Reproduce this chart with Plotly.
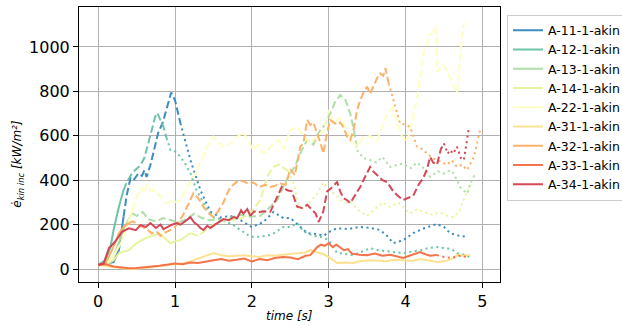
import numpy as np
import plotly.graph_objects as go

names = ["A-11-1-akin", "A-12-1-akin", "A-13-1-akin", "A-14-1-akin", "A-22-1-akin",
         "A-31-1-akin", "A-32-1-akin", "A-33-1-akin", "A-34-1-akin"]
colors = ["#3288bd", "#66c2a5", "#abdda4", "#e6f598", "#ffffbf",
          "#fee08b", "#fdae61", "#f46d43", "#d53e4f"]

# time [s] and e_kin_inc [kW/m2] per series
t11 = [0, 0.1, 0.2, 0.27, 0.33, 0.37, 0.42, 0.46, 0.52, 0.57, 0.6, 0.63, 0.68, 0.73, 0.78, 0.84, 0.9, 0.95, 1.0, 1.07,
       1.2, 1.33, 1.46, 1.59, 1.72, 1.85, 2.0, 2.15, 2.28, 2.41, 2.5, 2.6, 2.72, 2.85, 2.93, 3.02, 3.11, 3.25, 3.4, 3.55,
       3.67, 3.76, 3.84, 3.97, 4.1, 4.25, 4.35, 4.41, 4.5, 4.58, 4.7, 4.8]
v11 = [18, 25, 32, 86, 236, 330, 410, 400, 430, 420, 445, 415, 470, 540, 612, 660, 740, 795, 760, 657,
       491, 356, 259, 232, 240, 221, 189, 212, 257, 230, 230, 200, 162, 158, 150, 170, 184, 180, 190, 185,
       176, 150, 117, 130, 162, 185, 195, 203, 190, 162, 150, 145]

t12 = [0, 0.1, 0.16, 0.2, 0.27, 0.33, 0.37, 0.44, 0.5, 0.55, 0.6, 0.65, 0.7, 0.74, 0.77, 0.81, 0.85, 0.89, 0.94, 1.0,
       1.07, 1.14, 1.2, 1.28, 1.37, 1.5, 1.63, 1.75, 1.85, 1.98, 2.1, 2.2, 2.28, 2.41, 2.5, 2.59, 2.67, 2.72, 2.8, 2.9,
       3.0, 3.11, 3.2, 3.32, 3.43, 3.54, 3.65, 3.75, 3.87, 3.97, 4.1, 4.2, 4.3, 4.41, 4.5, 4.6, 4.67, 4.76, 4.84]
v12 = [20, 40, 100, 176, 281, 356, 390, 432, 450, 468, 500, 560, 630, 685, 703, 671, 640, 590, 536, 530,
       506, 470, 431, 356, 297, 234, 220, 200, 176, 146, 146, 150, 160, 190, 190, 207, 170, 162, 150, 145,
       131, 72, 70, 63, 80, 94, 85, 80, 75, 72, 80, 85, 95, 99, 95, 90, 72, 65, 54]

t13 = [0, 0.1, 0.2, 0.27, 0.36, 0.44, 0.5, 0.58, 0.65, 0.75, 0.85, 0.95, 1.05, 1.15, 1.25, 1.35, 1.45, 1.55, 1.65, 1.75,
       1.85, 1.98, 2.11, 2.24, 2.33, 2.41, 2.5, 2.56, 2.63, 2.72, 2.8, 2.88, 2.95, 3.02, 3.08, 3.15, 3.22, 3.28, 3.33, 3.37,
       3.45, 3.54, 3.62, 3.7, 3.8, 3.9, 3.97, 4.07, 4.15, 4.25, 4.32, 4.42, 4.5, 4.58, 4.63, 4.71, 4.8, 4.85, 4.91]
v13 = [18, 30, 60, 120, 200, 252, 240, 257, 225, 215, 230, 220, 210, 225, 250, 230, 220, 225, 215, 235,
       245, 236, 240, 281, 311, 371, 431, 461, 521, 581, 560, 620, 650, 700, 750, 784, 761, 700, 626, 536,
       500, 491, 480, 505, 460, 470, 475, 455, 480, 450, 415, 440, 430, 445, 430, 370, 340, 390, 430]

t14 = [0, 0.1, 0.2, 0.27, 0.4, 0.5, 0.62, 0.7, 0.8, 0.85, 0.94, 1.0, 1.07, 1.15, 1.2, 1.3, 1.4, 1.5, 1.6, 1.7,
       1.8, 1.9, 2.0, 2.11, 2.2, 2.28, 2.35, 2.41, 2.48, 2.55, 2.6, 2.67, 2.75, 2.85, 2.93, 3.0, 3.1, 3.2, 3.3, 3.4,
       3.5, 3.6, 3.7, 3.8, 3.9, 4.0, 4.06, 4.15, 4.25, 4.35, 4.45, 4.55, 4.62, 4.7, 4.78, 4.85]
v14 = [18, 20, 40, 72, 86, 117, 140, 150, 160, 144, 117, 125, 131, 150, 162, 150, 175, 200, 215, 225,
       220, 235, 260, 311, 416, 461, 470, 455, 440, 380, 300, 270, 300, 340, 390, 360, 330, 300, 300, 260,
       240, 270, 300, 280, 300, 270, 250, 270, 255, 245, 255, 240, 234, 260, 333, 380]

t22 = [0, 0.1, 0.2, 0.3, 0.4, 0.45, 0.49, 0.55, 0.59, 0.64, 0.68, 0.75, 0.81, 0.89, 0.96, 1.03, 1.1, 1.16, 1.23, 1.29,
       1.36, 1.42, 1.5, 1.56, 1.63, 1.7, 1.76, 1.83, 1.89, 1.95, 2.02, 2.08, 2.15, 2.22, 2.28, 2.35, 2.41, 2.5, 2.59, 2.67,
       2.76, 2.85, 2.93, 3.0, 3.06, 3.15, 3.22, 3.28, 3.37, 3.45, 3.54, 3.63, 3.7, 3.76, 3.83, 3.89, 3.95, 4.02, 4.08, 4.15,
       4.23, 4.32, 4.4, 4.41, 4.5, 4.58, 4.67, 4.72, 4.76]
v22 = [18, 25, 60, 120, 220, 270, 311, 370, 342, 380, 356, 350, 326, 297, 310, 300, 330, 370, 410, 446,
       500, 551, 596, 570, 551, 560, 581, 600, 617, 580, 536, 560, 521, 540, 566, 580, 540, 626, 640, 600,
       566, 600, 620, 716, 657, 680, 640, 596, 551, 590, 600, 580, 640, 700, 725, 662, 600, 572, 650, 770,
       964, 1054, 1090, 887, 919, 860, 793, 995, 1108]

t31 = [0, 0.1, 0.2, 0.3, 0.4, 0.5, 0.6, 0.7, 0.8, 0.9, 1.0, 1.1, 1.2, 1.3, 1.37, 1.45, 1.5, 1.6, 1.7, 1.8,
       1.9, 2.0, 2.1, 2.2, 2.3, 2.4, 2.5, 2.6, 2.7, 2.76, 2.85, 2.93, 3.0, 3.05, 3.11, 3.2, 3.32, 3.4, 3.54, 3.65,
       3.75, 3.85, 3.97, 4.1, 4.19, 4.3, 4.41, 4.5, 4.6, 4.67, 4.76, 4.84]
v31 = [18, 15, 8, 3, 0, 2, 5, 8, 15, 18, 22, 25, 35, 48, 54, 65, 72, 62, 58, 60,
       62, 58, 55, 62, 60, 65, 70, 72, 75, 86, 75, 68, 54, 40, 27, 30, 28, 35, 40, 38,
       35, 42, 40, 38, 45, 40, 32, 35, 45, 63, 60, 65]

t32 = [0, 0.1, 0.18, 0.27, 0.33, 0.4, 0.45, 0.5, 0.56, 0.63, 0.7, 0.76, 0.81, 0.87, 0.94, 1.0, 1.03, 1.1, 1.17, 1.24,
       1.3, 1.37, 1.44, 1.5, 1.56, 1.63, 1.7, 1.76, 1.83, 1.89, 1.95, 2.02, 2.1, 2.17, 2.24, 2.3, 2.37, 2.44, 2.5, 2.56,
       2.63, 2.67, 2.72, 2.76, 2.8, 2.85, 2.9, 2.93, 2.97, 3.02, 3.07, 3.11, 3.15, 3.19, 3.24, 3.28, 3.32, 3.37, 3.41, 3.46,
       3.5, 3.54, 3.58, 3.63, 3.67, 3.71, 3.74, 3.78, 3.84, 3.93, 4.0, 4.06, 4.15, 4.22, 4.28, 4.35, 4.41, 4.48, 4.54, 4.6,
       4.67, 4.74, 4.8, 4.89, 4.97]
v32 = [15, 30, 86, 162, 190, 207, 215, 205, 195, 180, 160, 170, 150, 165, 175, 190, 207, 240, 290, 342,
       320, 280, 250, 234, 260, 300, 356, 380, 401, 395, 385, 390, 370, 380, 370, 375, 385, 380, 450, 423,
       551, 566, 671, 650, 660, 611, 560, 521, 600, 671, 660, 650, 660, 640, 596, 581, 620, 716, 760, 800,
       821, 790, 820, 860, 881, 870, 905, 836, 761, 656, 650, 640, 551, 540, 521, 500, 491, 480, 470, 490,
       460, 470, 446, 505, 626]

t33 = [0, 0.1, 0.2, 0.3, 0.4, 0.5, 0.6, 0.7, 0.8, 0.9, 1.0, 1.1, 1.2, 1.3, 1.4, 1.5, 1.6, 1.7, 1.8, 1.9,
       2.0, 2.1, 2.2, 2.3, 2.4, 2.5, 2.6, 2.7, 2.76, 2.85, 2.9, 2.95, 3.0, 3.05, 3.1, 3.15, 3.2, 3.25, 3.3, 3.4,
       3.5, 3.6, 3.7, 3.8, 3.9, 3.97, 4.05, 4.12, 4.19, 4.25, 4.32, 4.41, 4.5, 4.6, 4.7, 4.8]
v33 = [20, 22, 12, 8, 4, 5, 10, 12, 15, 20, 25, 22, 30, 28, 35, 40, 45, 38, 42, 48,
       35, 45, 40, 50, 55, 52, 45, 60, 63, 99, 110, 105, 117, 100, 110, 99, 85, 90, 70, 65,
       63, 70, 60, 65, 55, 50, 60, 70, 77, 68, 60, 63, 55, 50, 60, 55]

t34 = [0, 0.07, 0.14, 0.22, 0.31, 0.4, 0.49, 0.55, 0.62, 0.68, 0.75, 0.81, 0.85, 0.9, 0.96, 1.02, 1.07, 1.13, 1.2, 1.25,
       1.29, 1.33, 1.37, 1.42, 1.46, 1.52, 1.58, 1.63, 1.7, 1.76, 1.81, 1.86, 1.89, 1.94, 1.98, 2.03, 2.07, 2.15, 2.24, 2.28,
       2.33, 2.39, 2.46, 2.52, 2.59, 2.65, 2.72, 2.78, 2.83, 2.87, 2.93, 2.98, 3.05, 3.11, 3.15, 3.19, 3.24, 3.28, 3.34, 3.41,
       3.48, 3.54, 3.58, 3.63, 3.7, 3.76, 3.8, 3.84, 3.9, 3.97, 4.03, 4.1, 4.17, 4.23, 4.28, 4.32, 4.36, 4.41, 4.46, 4.5,
       4.55, 4.58, 4.62, 4.67, 4.72, 4.76, 4.82]
v34 = [20, 25, 95, 123, 168, 184, 175, 198, 190, 207, 185, 200, 180, 190, 200, 207, 200, 215, 234, 210,
       200, 185, 176, 195, 185, 200, 215, 225, 220, 234, 230, 265, 250, 270, 240, 260, 255, 260, 258, 290,
       326, 371, 355, 350, 281, 275, 290, 270, 250, 213, 260, 350, 370, 392, 350, 320, 310, 297, 330, 370,
       420, 460, 440, 423, 400, 392, 370, 350, 330, 311, 320, 330, 380, 410, 450, 505, 480, 470, 540, 566,
       520, 536, 520, 551, 500, 491, 626]

times = [t11, t12, t13, t14, t22, t31, t32, t33, t34]
values = [v11, v12, v13, v14, v22, v31, v32, v33, v34]
# time where line style switches: solid -> dashed, dashed -> dotted
solid_end = [0.33, 0.33, 0.44, 1.2, 0.45, 99, 0.4, 4.41, 1.98]
dash_end = [1.07, 0.89, 3.37, 2.48, 99, 99, 3.78, 4.41, 4.5]

DASH = "7.5px,3.3px"
DOT = "2.1px,3.4px"

fig = go.Figure()
for i in range(len(names)):
    t = np.array(times[i], dtype=float)
    v = np.array(values[i], dtype=float)
    segs = [("solid", (t <= solid_end[i])),
            (DASH, (t >= solid_end[i]) & (t <= dash_end[i])),
            (DOT, (t >= dash_end[i]))]
    for k, (style, m) in enumerate(segs):
        if m.sum() < 2:
            continue
        fig.add_trace(go.Scatter(
            x=t[m], y=v[m], mode="lines", name=names[i],
            legendgroup=names[i], showlegend=(k == 0),
            line=dict(color=colors[i], width=2, dash=style),
            opacity=0.95, hoverinfo="skip"))

axis_common = dict(showline=True, linecolor="black", linewidth=1, mirror=True,
                   ticks="outside", ticklen=5, tickwidth=1, tickcolor="black",
                   showgrid=True, gridcolor="#b0b0b0", gridwidth=1, zeroline=False,
                   tickfont=dict(family="DejaVu Sans", size=16, color="black"))

fig.update_layout(
    width=622, height=326,
    margin=dict(l=79, r=122, t=7, b=44, autoexpand=False),
    paper_bgcolor="white", plot_bgcolor="white",
    font=dict(family="DejaVu Sans", color="black"),
    xaxis=dict(range=[-0.25, 5.23], tick0=0, dtick=1, **axis_common),
    yaxis=dict(range=[-58, 1180], tick0=0, dtick=200, **axis_common),
    legend=dict(x=1.0166, y=0.972, xanchor="left", yanchor="top",
                bordercolor="#cccccc", borderwidth=1, bgcolor="rgba(255,255,255,0.8)",
                font=dict(family="DejaVu Sans", size=12.5, color="black"),
                itemwidth=30, tracegroupgap=0),
    showlegend=True,
    annotations=[
        dict(text="<i>time [s]</i>", xref="paper", yref="paper", x=0.5, y=-0.124,
             xanchor="center", yanchor="middle", showarrow=False,
             font=dict(family="DejaVu Sans", size=12, color="black")),
        dict(text="<i>ė<sub>kin inc</sub> [kW/m²]</i>", xref="paper", yref="paper",
             x=-0.145, y=0.43, xanchor="center", yanchor="middle", textangle=-90,
             showarrow=False, font=dict(family="DejaVu Sans", size=12, color="black")),
    ],
)

fig.write_html("out.html")
